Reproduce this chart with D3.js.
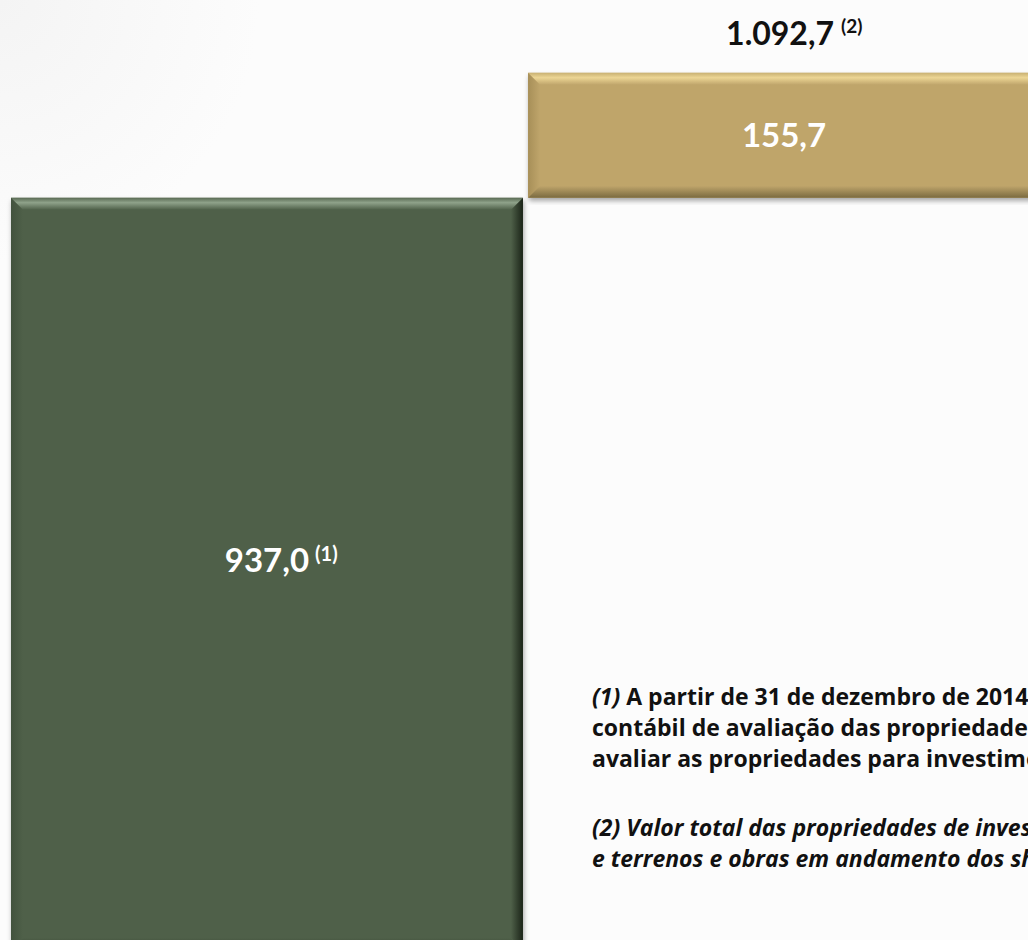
<!DOCTYPE html>
<html lang="pt-BR">
<head>
<meta charset="utf-8">
<script src="https://cdn.jsdelivr.net/npm/d3@7"></script>
<style>
  html, body { margin: 0; padding: 0; background: #fcfcfc; overflow: hidden; }
  svg { display: block; }
</style>
</head>
<body>
<svg id="chart" width="1028" height="940"></svg>
<script>
// Waterfall: investment properties (fair value) plus land and works in progress
const categories = ["Propriedades para investimento", "Terrenos e obras em andamento"];
const values = [937.0, 155.7];
const valueNotes = ["(1)", null];
const totalNote = "(2)";

const noteOne = [
  "A partir de 31 de dezembro de 2014, a Companhia alterou a sua prática",
  "contábil de avaliação das propriedades para investimento, passando a",
  "avaliar as propriedades para investimento pelo valor justo."
];
const noteTwo = [
  "Valor total das propriedades de investimento em operação",
  "e terrenos e obras em andamento dos shoppings em desenvolvimento."
];

const palette = [
  { base: "#4f6049", top: "#8fa28a", topEdge: "#5a6b54", left: "#42523d", right: "#1b2418", bottom: "#2f3b2b" },
  { base: "#bfa56b", top: "#ecd594", topEdge: "#c9b173", left: "#a78f58", right: "#5e4f2c", bottom: "#7a6a40" }
];

const W = 1028, H = 940;
const svg = d3.select("#chart");
const defs = svg.append("defs");

const ptBR = d3.formatLocale({ decimal: ",", thousands: ".", grouping: [3], currency: ["R$ ", ""] });
const fmt = ptBR.format(",.1f");

// Background with a faint grey shading in the upper-left corner
const bg = defs.append("radialGradient").attr("id", "bg")
  .attr("gradientUnits", "userSpaceOnUse").attr("cx", 0).attr("cy", 0).attr("r", 260);
bg.append("stop").attr("offset", 0).attr("stop-color", "#f4f4f4");
bg.append("stop").attr("offset", 1).attr("stop-color", "#fcfcfc");
svg.append("rect").attr("width", W).attr("height", H).attr("fill", "url(#bg)");

// Soft drop shadow under the bars
const sh = defs.append("filter").attr("id", "shadow")
  .attr("x", "-5%").attr("y", "-5%").attr("width", "110%").attr("height", "110%");
sh.append("feDropShadow").attr("dx", 1).attr("dy", 3).attr("stdDeviation", 2.5)
  .attr("flood-color", "#000").attr("flood-opacity", 0.35);

// Scales
const x = d3.scaleBand().domain(categories).range([11, 1040]).paddingInner(0.01).paddingOuter(0);
const y = d3.scaleLinear().domain([0, 1100]).range([950, 67]);

// Floating waterfall segments
let running = 0;
const segs = values.map((v, i) => {
  const s = { cat: categories[i], v, start: running, end: running + v, note: valueNotes[i], pal: palette[i], i };
  running += v;
  return s;
});
const total = running;

// Gradients for the bevel facets of each bar
segs.forEach(s => {
  const p = s.pal;
  const g1 = defs.append("linearGradient").attr("id", `top${s.i}`).attr("x1", 0).attr("y1", 0).attr("x2", 0).attr("y2", 1);
  g1.append("stop").attr("offset", 0).attr("stop-color", p.topEdge);
  g1.append("stop").attr("offset", 0.4).attr("stop-color", p.top);
  g1.append("stop").attr("offset", 1).attr("stop-color", p.base);
  const g2 = defs.append("linearGradient").attr("id", `right${s.i}`).attr("x1", 0).attr("y1", 0).attr("x2", 1).attr("y2", 0);
  g2.append("stop").attr("offset", 0).attr("stop-color", p.base);
  g2.append("stop").attr("offset", 1).attr("stop-color", p.right);
  const g3 = defs.append("linearGradient").attr("id", `left${s.i}`).attr("x1", 0).attr("y1", 0).attr("x2", 1).attr("y2", 0);
  g3.append("stop").attr("offset", 0).attr("stop-color", p.left);
  g3.append("stop").attr("offset", 1).attr("stop-color", p.base);
  const g4 = defs.append("linearGradient").attr("id", `bottom${s.i}`).attr("x1", 0).attr("y1", 0).attr("x2", 0).attr("y2", 1);
  g4.append("stop").attr("offset", 0).attr("stop-color", p.base);
  g4.append("stop").attr("offset", 1).attr("stop-color", p.bottom);
});

const bevel = 12;
const bars = svg.append("g").selectAll("g.bar").data(segs).join("g").attr("class", "bar");

bars.each(function (s) {
  const g = d3.select(this);
  const x0 = x(s.cat), w = x.bandwidth();
  const y0 = y(s.end), h = y(s.start) - y(s.end);
  const b = bevel;
  g.append("rect").attr("x", x0).attr("y", y0).attr("width", w).attr("height", h)
    .attr("fill", s.pal.base).attr("filter", "url(#shadow)");
  const poly = pts => "M" + pts.map(p => p.join(",")).join("L") + "Z";
  g.append("path").attr("fill", `url(#left${s.i})`)
    .attr("d", poly([[x0, y0], [x0 + b, y0 + b], [x0 + b, y0 + h - b], [x0, y0 + h]]));
  g.append("path").attr("fill", `url(#right${s.i})`)
    .attr("d", poly([[x0 + w, y0], [x0 + w, y0 + h], [x0 + w - b, y0 + h - b], [x0 + w - b, y0 + b]]));
  g.append("path").attr("fill", `url(#bottom${s.i})`)
    .attr("d", poly([[x0, y0 + h], [x0 + w, y0 + h], [x0 + w - b, y0 + h - b], [x0 + b, y0 + h - b]]));
  g.append("path").attr("fill", `url(#top${s.i})`)
    .attr("d", poly([[x0, y0], [x0 + w, y0], [x0 + w - b, y0 + b], [x0 + b, y0 + b]]));
});

const labelFont = "Lato, 'Open Sans', sans-serif";
const noteFont = "'Open Sans', 'Noto Sans', sans-serif";

// Value labels inside the bars
bars.append("text")
  .attr("x", s => x(s.cat) + x.bandwidth() / 2)
  .attr("y", s => s.i === 0 ? y(s.start + s.v / 2) - 2 : y(s.start + s.v / 2) + 12)
  .attr("text-anchor", "middle")
  .attr("font-family", labelFont).attr("font-weight", 700).attr("font-size", 33)
  .attr("fill", "#ffffff")
  .text(s => fmt(s.v));

// Superscript notes follow the value text
bars.filter(s => s.note).each(function (s) {
  const g = d3.select(this);
  const main = g.select("text");
  const bb = main.node().getBBox();
  g.append("text")
    .attr("x", bb.x + bb.width + 6)
    .attr("y", +main.attr("y") - 11)
    .attr("font-family", labelFont).attr("font-weight", 700).attr("font-size", 20)
    .attr("fill", "#ffffff")
    .text(s.note);
});

// Total above the last bar
const last = segs[segs.length - 1];
const tot = svg.append("text")
  .attr("x", x(last.cat) + x.bandwidth() / 2 - 4)
  .attr("y", y(total) - 28)
  .attr("text-anchor", "middle")
  .attr("font-family", labelFont).attr("font-weight", 700).attr("font-size", 32)
  .attr("fill", "#111111")
  .text(fmt(total));
const tb = tot.node().getBBox();
svg.append("text")
  .attr("x", tb.x + tb.width + 7)
  .attr("y", +tot.attr("y") - 12)
  .attr("font-family", labelFont).attr("font-weight", 700).attr("font-size", 19)
  .attr("fill", "#111111")
  .text(totalNote);

// Footnotes
const notes = svg.append("g")
  .attr("font-family", noteFont).attr("font-weight", 700).attr("font-size", 23)
  .attr("fill", "#111111");
const lineH = 31;
noteOne.forEach((line, k) => {
  const t = notes.append("text").attr("x", 592).attr("y", 705 + k * lineH);
  if (k === 0) t.append("tspan").attr("font-style", "italic").text("(1)");
  t.append("tspan").text(k === 0 ? " " + line : line);
});
noteTwo.forEach((line, k) => {
  const t = notes.append("text").attr("x", 592).attr("y", 836 + k * lineH).attr("font-style", "italic");
  t.text(k === 0 ? "(2) " + line : line);
});
</script>
</body>
</html>
